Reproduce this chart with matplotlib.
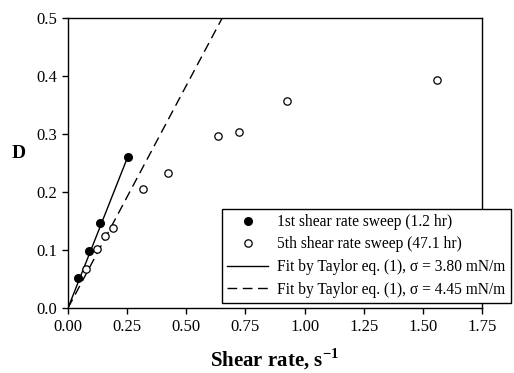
import matplotlib
matplotlib.use("Agg")
import matplotlib.pyplot as plt
import numpy as np

plt.rcParams['font.family'] = ['Liberation Serif', 'DejaVu Serif']
plt.rcParams['mathtext.fontset'] = 'custom'
plt.rcParams['mathtext.rm'] = 'Liberation Serif'
plt.rcParams['mathtext.bf'] = 'Liberation Serif:bold'

# 1st sweep (filled)
rate1 = [0.044, 0.090, 0.137, 0.253]
d1 = [0.051, 0.098, 0.147, 0.261]
# 5th sweep (open)
rate5 = [0.076, 0.121, 0.155, 0.189, 0.316, 0.424, 0.633, 0.721, 0.927, 1.56]
d5 = [0.067, 0.101, 0.124, 0.138, 0.205, 0.233, 0.297, 0.303, 0.357, 0.393]
# Taylor fits: slope and end of line
fit_slope = [1.032, 0.767]
fit_end = [0.253, 0.70]

xticks = [0.0, 0.25, 0.5, 0.75, 1.0, 1.25, 1.5, 1.75]
yticks = [0.0, 0.1, 0.2, 0.3, 0.4, 0.5]

fig = plt.figure(figsize=(5.14, 3.73), dpi=100)
ax = fig.add_axes([68 / 514, 1 - 308 / 373, 414 / 514, 290 / 373])

x = np.array([0, fit_end[0]])
l1, = ax.plot(x, fit_slope[0] * x, 'k-', lw=1.0)
x = np.array([0, fit_end[1]])
l2, = ax.plot(x, fit_slope[1] * x, 'k--', lw=1.0, dashes=(7, 4))
p1, = ax.plot(rate1, d1, 'o', ms=5.5, mfc='black', mec='black', ls='none')
p5, = ax.plot(rate5, d5, 'o', ms=5.3, mfc='white', mec='black', mew=0.9, ls='none')

ax.set_xlim(0, 1.75)
ax.set_ylim(0, 0.5)
ax.set_xticks(xticks)
ax.set_xticklabels(['%.2f' % t for t in xticks])
ax.set_yticks(yticks)
ax.set_yticklabels(['%.1f' % t for t in yticks])
ax.tick_params(direction='out', length=4, width=1, labelsize=12, pad=4)
for s in ax.spines.values():
    s.set_linewidth(1.0)

ax.set_xlabel(r'Shear rate, s$^{\mathbf{-1}}$', fontsize=15, fontweight='bold', labelpad=8)
fig.text(19 / 514, 1 - 153 / 373, 'D', fontsize=14, fontweight='bold', ha='center', va='center')

leg = fig.legend([p1, p5, l1, l2],
                 ['1st shear rate sweep (1.2 hr)',
                  '5th shear rate sweep (47.1 hr)',
                  'Fit by Taylor eq. (1), \u03c3 = 3.80 mN/m',
                  'Fit by Taylor eq. (1), \u03c3 = 4.45 mN/m'],
                 loc='lower left', bbox_to_anchor=(222 / 514, 1 - 303 / 373),
                 fontsize=11.2, fancybox=False, edgecolor='black', framealpha=1,
                 handlelength=2.6, borderpad=0.35, labelspacing=0.42,
                 handletextpad=0.6, borderaxespad=0)
leg.get_frame().set_linewidth(1.0)

plt.savefig('out.png', dpi=100)
plt.close()
